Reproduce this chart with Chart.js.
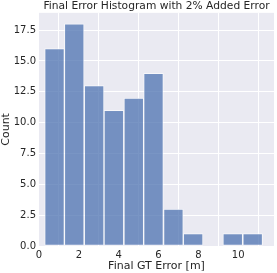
<!DOCTYPE html>
<html><head><meta charset="utf-8">
<script src="https://cdn.jsdelivr.net/npm/chart.js@4"></script>
<style>html,body{margin:0;padding:0;background:#fff}#wrap{width:277px;height:273px}</style>
</head><body><div id="wrap"><canvas id="c" width="277" height="273"></canvas></div>
<script>
const binCenters = [0.78, 1.77, 2.77, 3.76, 4.76, 5.75, 6.75, 7.74, 8.74, 9.73, 10.73];
const counts = [16, 18, 13, 11, 12, 14, 3, 1, 0, 1, 1];
const xTicks = [0, 2, 4, 6, 8, 10];
const yTicks = [0, 2.5, 5, 7.5, 10, 12.5, 15, 17.5];
const titleText = 'Final Error Histogram with 2% Added Error';
const xTitle = 'Final GT Error [m]';
const yTitle = 'Count';

const bg = {
  id: 'bg',
  afterLayout(chart) {
    const t = chart.titleBlock, a = chart.chartArea;
    if (t) { t.left = a.left; t.right = a.right; }
  },
  beforeDraw(chart) {
    const a = chart.chartArea, ctx = chart.ctx;
    ctx.save(); ctx.fillStyle = '#EAEAF2';
    ctx.fillRect(a.left, a.top, a.right - a.left, a.bottom - a.top);
    ctx.restore();
  }
};
const font = {family: 'DejaVu Sans', size: 10};
new Chart(document.getElementById('c'), {
  type: 'bar',
  data: {
    datasets: [{
      data: binCenters.map((x, i) => ({x: x, y: counts[i]})),
      backgroundColor: 'rgba(76,114,176,0.75)',
      borderColor: 'rgba(255,255,255,0.6)',
      borderWidth: 1,
      borderSkipped: false,
      barPercentage: 1, categoryPercentage: 1
    }]
  },
  options: {
    responsive: false, animation: false,
    layout: {padding: {left: 0, right: 3, top: 0, bottom: 0}},
    plugins: {
      legend: {display: false}, tooltip: {enabled: false},
      title: {display: true, text: titleText, color: '#262626',
        font: {family: 'DejaVu Sans', size: 10.7, weight: 'normal'}, padding: {top: 0, bottom: 0}}
    },
    scales: {
      x: {type: 'linear', min: 0, max: 11.8, offset: false,
        afterBuildTicks(s) { s.ticks = xTicks.map(v => ({value: v})); },
        ticks: {color: '#262626', font: font, padding: 3, maxRotation: 0,
          callback: v => String(v)},
        grid: {color: '#ffffff', lineWidth: 1, drawTicks: false},
        border: {display: false},
        title: {display: true, text: xTitle, color: '#262626', font: {family: 'DejaVu Sans', size: 11}, padding: {top: 0, bottom: 0}},
        afterFit(s) { s.height = 27; }
      },
      y: {min: 0, max: 18.9,
        afterBuildTicks(s) { s.ticks = yTicks.map(v => ({value: v})); },
        ticks: {color: '#262626', font: font, padding: 3,
          callback: v => v.toFixed(1)},
        grid: {color: '#ffffff', lineWidth: 1, drawTicks: false},
        border: {display: false},
        title: {display: true, text: yTitle, color: '#262626', font: {family: 'DejaVu Sans', size: 11}, padding: {top: 0, bottom: 2}},
        afterFit(s) { s.width = 39; }
      }
    }
  },
  plugins: [bg]
});
</script></body></html>
